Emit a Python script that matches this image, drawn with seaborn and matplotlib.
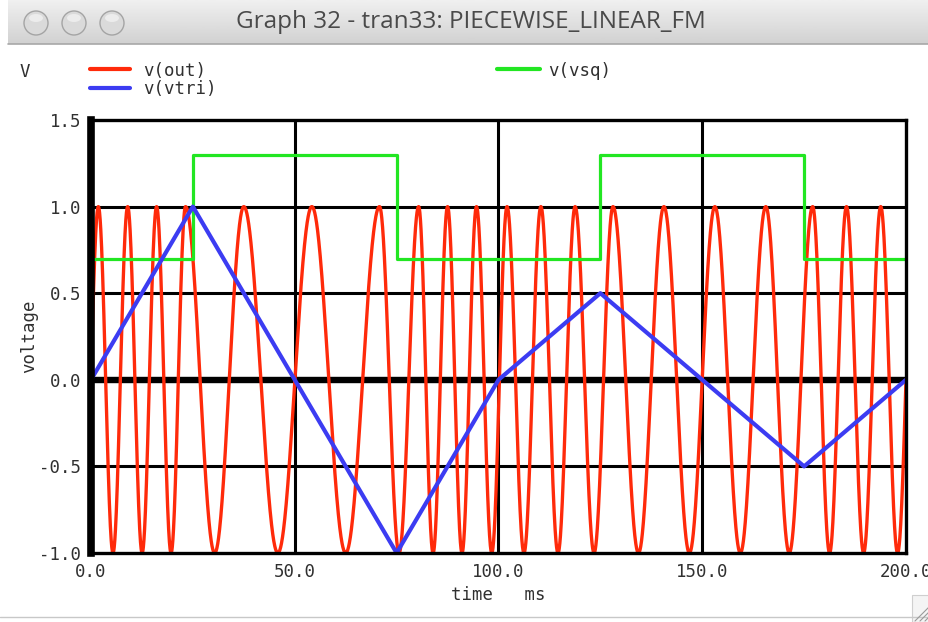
import numpy as np
import pandas as pd
import matplotlib
matplotlib.use("Agg")
import matplotlib.pyplot as plt
from matplotlib.lines import Line2D
from matplotlib.patches import Ellipse, Rectangle
import seaborn as sns

# ---- waveform data (time in ms, voltage in V) ----
# triangle modulating voltage: corner points
vtri_t = [0, 25, 75, 100, 125, 175, 200]
vtri_v = [0.0, 1.0, -1.0, 0.0, 0.5, -0.5, 0.0]

# square wave: level starting at each edge time
vsq_t = [0, 25, 75, 125, 175, 200]
vsq_v = [0.7, 1.3, 0.7, 1.3, 0.7, 0.7]

# FM output: times of successive positive peaks (amplitude 1 V)
vout_peak_t = [1.8, 9.0, 16.1, 23.2, 37.5, 54.2, 70.8, 80.4, 87.5, 94.6,
               102.1, 110.4, 118.8, 128.1, 140.6, 153.1, 165.6, 177.1,
               185.4, 193.8]
vout_start_t, vout_end_t = 0.0, 200.0
vout_amp = 1.0

x_ticks = [0, 50, 100, 150, 200]
x_tick_labels = ["0.0", "50.0", "100.0", "150.0", "200.0"]
y_ticks = [-1.0, -0.5, 0.0, 0.5, 1.0, 1.5]
y_tick_labels = ["-1.0", "-0.5", "0.0", "0.5", "1.0", "1.5"]

# ---- build drawable series ----
# cycle count is 0 at start, k+1/4 at the k-th peak, whole cycles at the end
anchor_t = [vout_start_t] + vout_peak_t + [vout_end_t]
anchor_cyc = [0.0] + [k + 0.25 for k in range(len(vout_peak_t))] + [float(len(vout_peak_t))]
t_fine = np.linspace(vout_start_t, vout_end_t, 4001)
cycles = np.interp(t_fine, anchor_t, anchor_cyc)
df_out = pd.DataFrame({"time": t_fine, "v": vout_amp * np.sin(2 * np.pi * cycles)})
df_tri = pd.DataFrame({"time": vtri_t, "v": vtri_v})
df_sq = pd.DataFrame({"time": vsq_t, "v": vsq_v})

RED = "#ff2a0a"
BLUE = "#3c3cf2"
GREEN = "#22e622"
TXT = "#303030"

sns.set_style("white")
plt.rcParams["font.family"] = ["DejaVu Sans Mono", "DejaVu Sans"]

W, H = 929, 622
fig = plt.figure(figsize=(W / 100, H / 100), dpi=100)
fig.patch.set_facecolor("white")


def fx(px):
    return px / W


def fy(py):
    return 1 - py / H


# ---- window title bar ----
bar = fig.add_axes([fx(8), fy(44), 1 - fx(8), 44 / H])
grad = np.linspace(0.94, 0.82, 64).reshape(-1, 1)
bar.imshow(grad, cmap="gray", vmin=0, vmax=1, aspect="auto",
           extent=[0, 1, 0, 1], origin="upper")
bar.set_xlim(0, 1)
bar.set_ylim(0, 1)
bar.axis("off")
fig.add_artist(Line2D([fx(8), 1], [fy(44), fy(44)], color="#a8a8a8", lw=1.2))
for cx in (36, 74, 112):
    fig.add_artist(Ellipse((fx(cx), fy(23)), 24 / W, 24 / H, transform=fig.transFigure,
                           facecolor="#dadada", edgecolor="#a4a4a4", lw=1.0))
    fig.add_artist(Ellipse((fx(cx), fy(18)), 14 / W, 8 / H, transform=fig.transFigure,
                           facecolor="#ececec", edgecolor="none"))
fig.text(fx(471), fy(22), "Graph 32 - tran33: PIECEWISE_LINEAR_FM",
         ha="center", va="center", fontsize=17.5, color="#4a4a4a",
         family=["Open Sans", "DejaVu Sans"])

# ---- plot area ----
ax = fig.add_axes([fx(91), fy(553), fx(906 - 91), (553 - 120) / H])
ax.set_facecolor("white")
ax.set_xlim(0, 200)
ax.set_ylim(-1.0, 1.5)

for xv in x_ticks[1:-1]:
    ax.axvline(xv, color="black", lw=2.2, zorder=1)
for yv in y_ticks[1:-1]:
    ax.axhline(yv, color="black", lw=4.6 if yv == 0 else 2.2, zorder=1)

sns.lineplot(data=df_out, x="time", y="v", color=RED, lw=2.4, ax=ax,
             sort=False, estimator=None, zorder=2)
sns.lineplot(data=df_sq, x="time", y="v", color=GREEN, lw=2.3, ax=ax,
             sort=False, estimator=None, drawstyle="steps-post", zorder=3)
sns.lineplot(data=df_tri, x="time", y="v", color=BLUE, lw=3.0, ax=ax,
             sort=False, estimator=None, zorder=4)

ax.set_xticks(x_ticks)
ax.set_xticklabels(x_tick_labels)
ax.set_yticks(y_ticks)
ax.set_yticklabels(y_tick_labels)
ax.tick_params(length=0, labelsize=12.5, colors=TXT, pad=7)
ax.set_xlabel("time   ms", fontsize=12.5, color=TXT, labelpad=4)
ax.set_ylabel("voltage", fontsize=12.5, color=TXT, labelpad=1)
for side, lw in (("left", 5.5), ("top", 2.4), ("right", 2.4), ("bottom", 2.4)):
    ax.spines[side].set_visible(True)
    ax.spines[side].set_color("black")
    ax.spines[side].set_linewidth(lw)
    ax.spines[side].set_zorder(5)

# ---- legend row ----
fig.text(fx(20), fy(72), "V", fontsize=12.5, color=TXT, va="center", ha="left")
legend_items = [
    (90, 130, 69, 143, 71, RED, "v(out)"),
    (90, 130, 88, 143, 89, BLUE, "v(vtri)"),
    (497, 540, 69, 548, 71, GREEN, "v(vsq)"),
]
for x0, x1, ly, tx, ty, col, lab in legend_items:
    fig.add_artist(Line2D([fx(x0), fx(x1)], [fy(ly), fy(ly)], color=col, lw=3))
    fig.text(fx(tx), fy(ty), lab, fontsize=12.5, color=TXT, va="center", ha="left")

# ---- bottom window edge and resize grip ----
fig.add_artist(Line2D([0, 1], [fy(617), fy(617)], color="#c8c8c8", lw=1.0))
fig.add_artist(Rectangle((fx(912), 0), fx(17), 27 / H, transform=fig.transFigure,
                         facecolor="#f4f4f4", edgecolor="#cfcfcf", lw=0.8))
for off in (4, 9, 14):
    fig.add_artist(Line2D([fx(929 - off), fx(929)], [fy(621), fy(621 - off)],
                          color="#9a9a9a", lw=0.8))

fig.savefig("out.png", dpi=100, facecolor="white")
